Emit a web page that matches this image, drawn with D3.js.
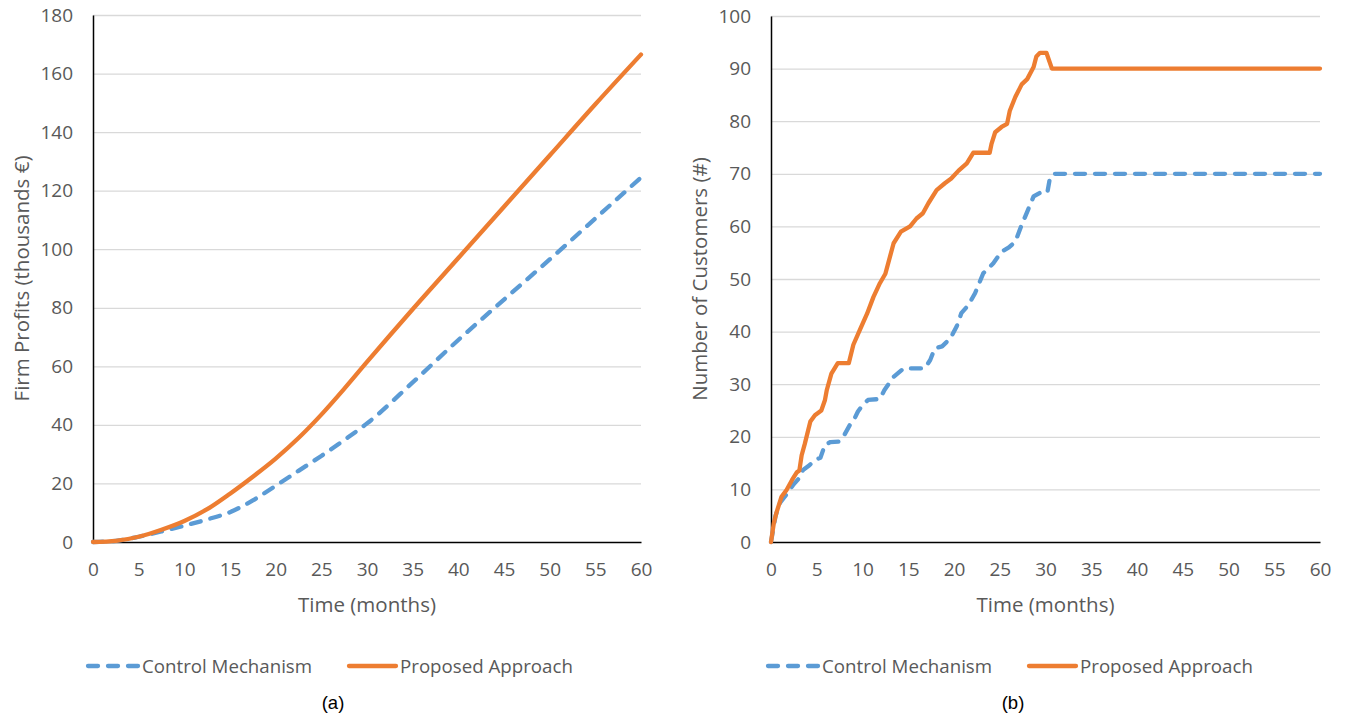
<!DOCTYPE html>
<html>
<head>
<meta charset="utf-8">
<script src="https://cdn.jsdelivr.net/npm/d3@7"></script>
<style>
  body { margin: 0; background: #fff; }
  text { font-family: "Open Sans", sans-serif; }
</style>
</head>
<body>
<svg></svg>
<script>
var viewWidth = 1345;
var viewHeight = 716;

// (a) firm profits, thousands of euro
var profitMonths = [0, 2.5, 5, 7.5, 10, 12.5, 15, 17.5, 20, 22.5, 25, 27.5, 30, 35, 40, 45, 50, 55, 60];
var profitControl = [0, 0.4, 1.8, 3.6, 5.6, 7.7, 10.2, 14.2, 19.2, 24.3, 29.4, 34.8, 40.5, 54.5, 69, 82.8, 96.5, 110.5, 124.5];
var profitProposed = [0, 0.4, 1.8, 4.2, 7.2, 11.2, 16.5, 22.3, 28.5, 35.5, 43.5, 52.3, 61.5, 79.5, 97, 114.5, 132, 149.5, 166.5];

// (b) number of customers, [month, customers]
var customersControl = [[0,0],[0.5,5],[1.0,7.5],[1.5,8.6],[2.4,10.8],[3.0,12],[3.5,13.7],[4.2,14.6],[4.8,15.6],[5.4,16],[5.9,18.5],[6.5,19],[7.4,19.1],[7.9,20],[8.6,22.2],[9.0,23],[9.5,24.8],[10.0,26],[10.6,27],[11.9,27.2],[12.4,28.9],[13.4,31.4],[14.5,33],[16.8,33],[17.4,34.6],[17.9,36.8],[18.7,37.2],[19.6,38.7],[20.3,41],[20.8,43.5],[21.6,45.1],[22.3,47.3],[23.2,51.1],[24.3,53],[25.2,55.2],[26.0,56],[26.7,57.1],[27.4,60.3],[28.1,63.2],[28.7,65.7],[29.4,66.4],[30.2,66.4],[30.5,69.4],[30.9,70],[60,70]];
var customersProposed = [[0,0],[0.3,3.5],[0.6,5.6],[1.15,8.6],[1.7,9.9],[2.3,11.8],[2.8,13.2],[3.1,13.6],[3.35,16.5],[3.7,18.7],[4.3,22.9],[4.8,24.1],[5.5,25],[5.9,27],[6.1,28.9],[6.6,32],[7.3,34],[8.5,34],[9.0,37.5],[9.7,40.3],[10.5,43.4],[11.2,46.6],[11.9,49.2],[12.5,51],[13.4,56.8],[14.2,59],[15.2,60],[15.9,61.5],[16.6,62.5],[17.2,64.4],[18.1,66.9],[19.0,68.2],[19.7,69.1],[20.5,70.6],[21.4,72],[22.1,74],[23.9,74],[24.1,75.7],[24.5,77.9],[25.2,78.9],[25.8,79.5],[26.1,82],[26.7,84.6],[27.4,87],[28.0,88],[28.7,90.3],[29.0,92.3],[29.4,93],[30.1,93],[30.7,90],[60,90]];

var xTicks = d3.range(0, 61, 5);
var profitTicks = d3.range(0, 181, 20);
var customerTicks = d3.range(0, 101, 10);
var seriesNames = ["Control Mechanism", "Proposed Approach"];
var blue = "#5B9BD5", orange = "#ED7D31";

var svg = d3.select("svg")
    .attr("width", viewWidth)
    .attr("height", viewHeight);

function drawPanel(p) {
  var g = svg.append("g");
  var x = p.x, y = p.y;

  // gridlines
  g.selectAll("line.grid")
    .data(p.yTicks.slice(1))
    .enter().append("line")
    .attr("x1", x(0)).attr("x2", x(60))
    .attr("y1", function(d){return y(d) + 0.5})
    .attr("y2", function(d){return y(d) + 0.5})
    .attr("stroke", "#d9d9d9")
    .attr("stroke-width", 1.3);

  var yAxis = d3.axisLeft(y).tickValues(p.yTicks).tickSize(0).tickPadding(20);
  var xAxis = d3.axisBottom(x).tickValues(xTicks).tickSize(0).tickPadding(21);

  var ya = g.append("g").attr("transform", "translate(" + x(0) + ",0)").call(yAxis);
  var xa = g.append("g").attr("transform", "translate(0," + y(0) + ")").call(xAxis);
  [ya, xa].forEach(function(a) {
    a.select(".domain").attr("stroke", "#000").attr("stroke-width", 1.5);
    a.selectAll("text").attr("fill", "#595959").style("font-size", "19px")
      .style("font-family", "'Open Sans', sans-serif");
  });

  g.append("path").datum(p.ctl)
    .attr("d", p.line)
    .attr("fill", "none").attr("stroke", blue).attr("stroke-width", 4.3)
    .attr("stroke-dasharray", "10,10").attr("stroke-linecap", "round")
    .attr("stroke-linejoin", "round");
  g.append("path").datum(p.pro)
    .attr("d", p.line)
    .attr("fill", "none").attr("stroke", orange).attr("stroke-width", 4.3)
    .attr("stroke-linecap", "round").attr("stroke-linejoin", "round");

  // axis titles
  g.append("text")
    .attr("transform", "translate(" + p.yTitleX + "," + y(p.yMax / 2) + ") rotate(-90)")
    .attr("text-anchor", "middle")
    .attr("fill", "#595959").style("font-size", "20.5px")
    .text(p.yTitle);
  g.append("text")
    .attr("x", (x(0) + x(60)) / 2).attr("y", 612)
    .attr("text-anchor", "middle")
    .attr("fill", "#595959").style("font-size", "20.5px")
    .text("Time (months)");

  // legend
  var lg = g.append("g").attr("transform", "translate(" + p.legendX + ",666)");
  lg.append("line").attr("x1", 2).attr("x2", 52).attr("y1", 0).attr("y2", 0)
    .attr("stroke", blue).attr("stroke-width", 4.3)
    .attr("stroke-dasharray", "10,10").attr("stroke-linecap", "round");
  lg.append("text").attr("x", 56).attr("y", 7).attr("fill", "#595959")
    .style("font-size", "18.7px").text(seriesNames[0]);
  lg.append("line").attr("x1", 263).attr("x2", 310).attr("y1", 0).attr("y2", 0)
    .attr("stroke", orange).attr("stroke-width", 4.3).attr("stroke-linecap", "round");
  lg.append("text").attr("x", 314).attr("y", 7).attr("fill", "#595959")
    .style("font-size", "18.7px").text(seriesNames[1]);

  // caption
  g.append("text")
    .attr("x", p.captionX).attr("y", 709)
    .attr("text-anchor", "middle")
    .attr("fill", "#000").style("font-size", "18.5px")
    .style("font-family", "'Liberation Sans', Arial, sans-serif")
    .text(p.caption);
}

// panel (a)
var xa = d3.scaleLinear().domain([0, 60]).range([93, 641]);
var ya = d3.scaleLinear().domain([0, 180]).range([542, 15]);
var profitLine = d3.line()
  .x(function(d){return xa(d[0])})
  .y(function(d){return ya(d[1])})
  .curve(d3.curveMonotoneX);
drawPanel({
  x: xa, y: ya, yMax: 180, yTicks: profitTicks,
  ctl: profitMonths.map(function(m, i){return [m, profitControl[i]]}),
  pro: profitMonths.map(function(m, i){return [m, profitProposed[i]]}),
  line: profitLine,
  yTitle: "Firm Profits (thousands €)", yTitleX: 29,
  legendX: 86, captionX: 333, caption: "(a)"
});

// panel (b)
var xb = d3.scaleLinear().domain([0, 60]).range([771, 1320]);
var yb = d3.scaleLinear().domain([0, 100]).range([542, 16]);
var customerLine = d3.line()
  .x(function(d){return xb(d[0])})
  .y(function(d){return yb(d[1])});
drawPanel({
  x: xb, y: yb, yMax: 100, yTicks: customerTicks,
  ctl: customersControl, pro: customersProposed,
  line: customerLine,
  yTitle: "Number of Customers (#)", yTitleX: 707,
  legendX: 766, captionX: 1013, caption: "(b)"
});
</script>
</body>
</html>
